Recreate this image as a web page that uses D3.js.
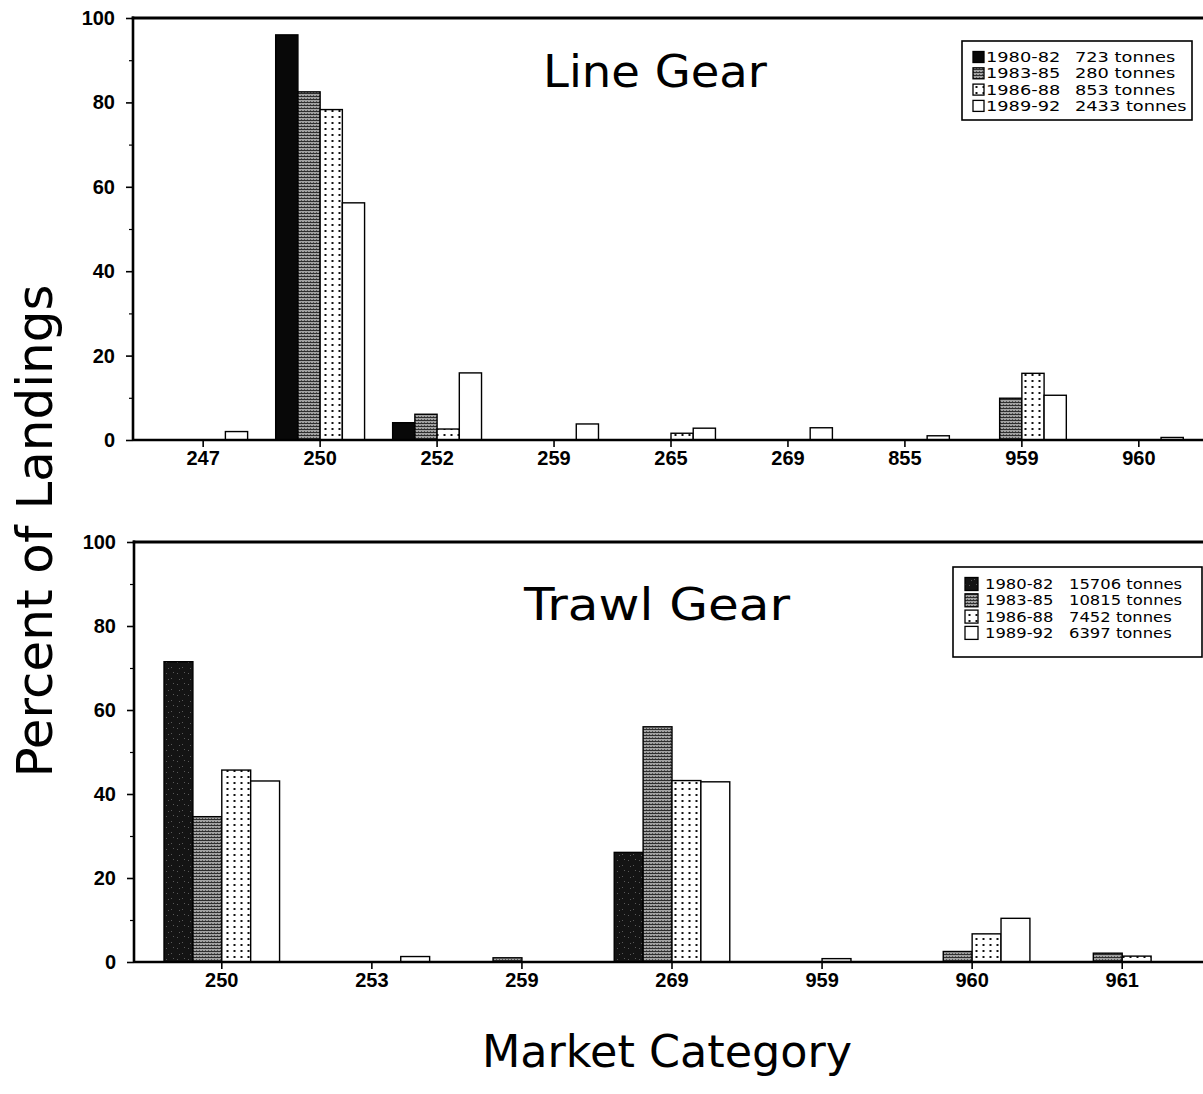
<!DOCTYPE html>
<html><head><meta charset="utf-8">
<script src="https://cdn.jsdelivr.net/npm/d3@7"></script>
<style>html,body{margin:0;padding:0;background:#fff;} svg{display:block}</style>
</head><body><svg id="c" width="1203" height="1094"></svg>
<script>
// ---------- data ----------
const periods = ["1980-82", "1983-85", "1986-88", "1989-92"];
const yTicks = [0, 20, 40, 60, 80, 100];
const yMinorTicks = [10, 30, 50, 70, 90];

const lineCategories = ["247", "250", "252", "259", "265", "269", "855", "959", "960"];
const line1980 = [0, 96.0, 4.1, 0, 0, 0, 0, 0, 0];
const line1983 = [0, 82.5, 6.1, 0, 0, 0, 0, 9.9, 0];
const line1986 = [0, 78.3, 2.6, 0, 1.6, 0, 0, 15.8, 0];
const line1989 = [2.0, 56.2, 15.9, 3.8, 2.8, 2.9, 1.0, 10.6, 0.6];
const lineTonnes = ["723 tonnes", "280 tonnes", "853 tonnes", "2433 tonnes"];

const trawlCategories = ["250", "253", "259", "269", "959", "960", "961"];
const trawl1980 = [71.5, 0, 0, 26.1, 0, 0, 0];
const trawl1983 = [34.6, 0, 1.0, 56.0, 0, 2.5, 2.1];
const trawl1986 = [45.7, 0, 0, 43.2, 0.8, 6.7, 1.4];
const trawl1989 = [43.1, 1.3, 0, 42.9, 0, 10.4, 0];
const trawlTonnes = ["15706 tonnes", "10815 tonnes", "7452 tonnes", "6397 tonnes"];

// ---------- drawing ----------
const W = 1203;
const svg = d3.select("#c");
const defs = svg.append("defs");

function pattern(id, w, h) {
  return defs.append("pattern").attr("id", id).attr("patternUnits", "userSpaceOnUse")
    .attr("width", w).attr("height", h);
}
const sp = pattern("speck", 11, 11);
sp.append("rect").attr("width", 11).attr("height", 11).attr("fill", "#141414");
[[1,2],[6,7],[8,1],[3,8]].forEach(([x,y]) =>
  sp.append("rect").attr("x", x).attr("y", y).attr("width", 1).attr("height", 1).attr("fill", "#5a5a5a"));

const gp = pattern("gray", 3, 3);
gp.append("rect").attr("width", 3).attr("height", 3).attr("fill", "#a2a2a2");
gp.append("rect").attr("width", 3).attr("height", 1).attr("fill", "#2e2e2e");
gp.append("rect").attr("x", 1).attr("y", 2).attr("width", 1).attr("height", 1).attr("fill", "#555");

const dp = pattern("dots", 7, 6);
dp.append("rect").attr("width", 7).attr("height", 6).attr("fill", "#fff");
dp.append("rect").attr("x", 2.5).attr("y", 2).attr("width", 2).attr("height", 2).attr("fill", "#111");

const tickFont = "'Liberation Sans', Arial, sans-serif";
const labFont = "'DejaVu Sans', sans-serif";

function drawPanel(cfg) {
  const g = svg.append("g");
  const x0 = d3.scaleBand().domain(cfg.cats).range(cfg.xr)
    .paddingInner(cfg.pi).paddingOuter(cfg.po);
  const x1 = d3.scaleBand().domain(d3.range(cfg.series.length)).range([0, x0.bandwidth()]);
  const y = d3.scaleLinear().domain([0, 100]).range(cfg.yr);

  // bars
  cfg.series.forEach((vals, s) => {
    g.append("g").selectAll("rect")
      .data(vals.map((v, i) => ({ v, c: cfg.cats[i] })).filter(d => d.v > 0))
      .join("rect")
      .attr("x", d => x0(d.c) + x1(s))
      .attr("y", d => y(d.v))
      .attr("width", x1.bandwidth())
      .attr("height", d => y(0) - y(d.v))
      .attr("fill", cfg.fills[s])
      .attr("stroke", "#000").attr("stroke-width", 1.4);
  });

  // y axis
  const ya = g.append("g").attr("transform", `translate(${cfg.xr[0]},0)`)
    .call(d3.axisLeft(y).tickValues(yTicks).tickSize(7).tickPadding(11).tickFormat(d3.format("d")));
  ya.select(".domain").remove();
  ya.selectAll("line").attr("stroke-width", 1.6);
  ya.selectAll("text").attr("font-family", tickFont).attr("font-size", 20)
    .attr("font-weight", "bold").attr("fill", "#000");
  const ym = g.append("g").attr("transform", `translate(${cfg.xr[0]},0)`)
    .call(d3.axisLeft(y).tickValues(yMinorTicks).tickSize(4).tickFormat(""));
  ym.select(".domain").remove();
  ym.selectAll("line").attr("stroke-width", 1.2);

  // x axis
  const xa = g.append("g").attr("transform", `translate(0,${y(0)})`)
    .call(d3.axisBottom(x0).tickSize(7).tickPadding(4));
  xa.select(".domain").remove();
  xa.selectAll("line").attr("stroke-width", 1.6);
  xa.selectAll("text").attr("font-family", tickFont).attr("font-size", 20)
    .attr("font-weight", "bold").attr("fill", "#000");

  // frame lines
  g.append("line").attr("x1", cfg.xr[0]).attr("x2", W).attr("y1", y(0)).attr("y2", y(0))
    .attr("stroke", "#000").attr("stroke-width", 2.6);
  g.append("line").attr("x1", cfg.xr[0]).attr("x2", cfg.xr[0]).attr("y1", y(0) + 1).attr("y2", y(100) - 1.5)
    .attr("stroke", "#000").attr("stroke-width", 2.6);
  g.append("line").attr("x1", cfg.xr[0] - 1.3).attr("x2", W).attr("y1", y(100)).attr("y2", y(100))
    .attr("stroke", "#000").attr("stroke-width", 3);

  // title
  g.append("text").attr("x", cfg.titleX).attr("y", cfg.titleY)
    .attr("text-anchor", "middle").attr("font-family", labFont).attr("font-size", 45)
    .attr("textLength", cfg.titleLen).attr("lengthAdjust", "spacingAndGlyphs")
    .attr("fill", "#000").text(cfg.title);

  // legend
  const L = cfg.legend;
  g.append("rect").attr("x", L.x).attr("y", L.y).attr("width", L.w).attr("height", L.h)
    .attr("fill", "#fff").attr("stroke", "#000").attr("stroke-width", 1.6);
  periods.forEach((p, i) => {
    const cy = L.row0 + i * L.dy;
    g.append("rect").attr("x", L.sx).attr("y", cy - L.ss / 2).attr("width", L.ss).attr("height", L.ss)
      .attr("fill", cfg.fills[i]).attr("stroke", "#000").attr("stroke-width", 1.3);
    const t1 = g.append("text").attr("x", L.tx).attr("y", cy + 5).attr("font-family", labFont)
      .attr("font-size", L.fs).attr("fill", "#000").text(p);
    t1.attr("textLength", t1.node().getComputedTextLength() * L.k).attr("lengthAdjust", "spacingAndGlyphs");
    const t2 = g.append("text").attr("x", L.tx2).attr("y", cy + 5).attr("font-family", labFont)
      .attr("font-size", L.fs).attr("fill", "#000").text(cfg.tonnes[i]);
    t2.attr("textLength", t2.node().getComputedTextLength() * L.k).attr("lengthAdjust", "spacingAndGlyphs");
  });
}

drawPanel({
  cats: lineCategories,
  series: [line1980, line1983, line1986, line1989],
  fills: ["#080808", "url(#gray)", "url(#dots)", "#fff"],
  tonnes: lineTonnes,
  xr: [133, 1209], yr: [440, 18], pi: 0.24, po: 0.22,
  title: "Line Gear", titleX: 655, titleY: 87, titleLen: 224,
  legend: { x: 962, y: 41, w: 230, h: 79, row0: 57, dy: 16.3, sx: 973, ss: 11, tx: 986, tx2: 1075, fs: 14, k: 1.27 }
});

drawPanel({
  cats: trawlCategories,
  series: [trawl1980, trawl1983, trawl1986, trawl1989],
  fills: ["url(#speck)", "url(#gray)", "url(#dots)", "#fff"],
  tonnes: trawlTonnes,
  xr: [134, 1210], yr: [962, 542], pi: 0.23, po: 0.2,
  title: "Trawl Gear", titleX: 657, titleY: 620, titleLen: 266,
  legend: { x: 953, y: 567, w: 249, h: 90, row0: 584, dy: 16.3, sx: 965, ss: 13, tx: 985, tx2: 1069, fs: 14, k: 1.17 }
});

// axis titles
svg.append("text").attr("transform", "translate(52,531) rotate(-90)")
  .attr("text-anchor", "middle").attr("font-family", labFont).attr("font-size", 49)
  .attr("textLength", 493).attr("lengthAdjust", "spacingAndGlyphs")
  .attr("fill", "#000").text("Percent of Landings");
svg.append("text").attr("x", 667).attr("y", 1067)
  .attr("text-anchor", "middle").attr("font-family", labFont).attr("font-size", 45)
  .attr("textLength", 370).attr("lengthAdjust", "spacingAndGlyphs")
  .attr("fill", "#000").text("Market Category");
</script></body></html>
